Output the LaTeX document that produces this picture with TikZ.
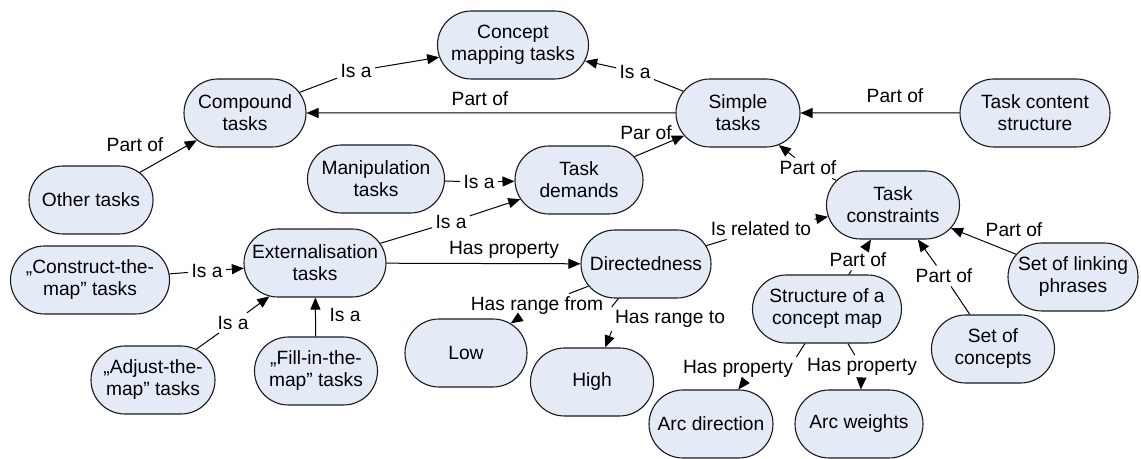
\documentclass[tikz,border=0pt]{standalone}
\usepackage{fontspec}
\setmainfont{Liberation Sans}
\usepackage{xcolor}
\definecolor{Col1}{RGB}{228,235,247}
\definecolor{Col2}{RGB}{25,25,25}
\usepackage{tikz}
\usetikzlibrary{shapes.misc}
\usetikzlibrary{arrows.meta}
\tikzstyle{Node}=[rounded rectangle,draw=Col2,fill=Col1,line width=.55pt,
minimum height=34pt,inner sep=1pt,align=center,font=\fontsize{9.6}{11}\selectfont]
\tikzstyle{Label}=[inner sep=1.5pt,font=\fontsize{9.6}{11}\selectfont]
\tikzstyle{Edge}=[draw=black,line width=.5pt]
\tikzstyle{Arrow}=[Edge,-{Triangle[length=6pt,width=5pt]}]

\begin{document}
\begin{tikzpicture}[x=.5pt,y=-.5pt]
        \useasboundingbox (0,0) rectangle (1141,459);
        % concepts
        \node[Node,minimum width=77.5pt](0)at(513,45){Concept\\mapping tasks};
        \node[Node,minimum width=63pt](1)at(245,113){Compound\\tasks};
        \node[Node,minimum width=64pt](2)at(738,113){Simple\\tasks};
        \node[Node,minimum width=77pt](3)at(1035,113){Task content\\structure};
        \node[Node,minimum width=64pt](4)at(91,200){Other tasks};
        \node[Node,minimum width=70.5pt](5)at(376,179){Manipulation\\tasks};
        \node[Node,minimum width=66pt](6)at(579,180){Task\\demands};
        \node[Node,minimum width=68.5pt](7)at(893,205){Task\\constraints};
        \node[Node,minimum width=73pt](8)at(315,263){Externalisation\\tasks};
        \node[Node,minimum width=81.5pt](9)at(90,280){„Construct-the-\\map” tasks};
        \node[Node,minimum width=67pt](10)at(646,264){Directedness};
        \node[Node,minimum width=67pt](11)at(1073,277){Set of linking\\phrases};
        \node[Node,minimum width=76.5pt](12)at(827,309){Structure of a\\concept map};
        \node[Node,minimum width=63.5pt](13)at(993,349){Set of\\concepts};
        \node[Node,minimum width=63pt](14)at(466,353){Low};
        \node[Node,minimum width=63.5pt](15)at(592,382){High};
        \node[Node,minimum width=64pt](16)at(153,380){„Adjust-the-\\map” tasks};
        \node[Node,minimum width=63.5pt](17)at(316,371){„Fill-in-the-\\map” tasks};
        \node[Node,minimum width=64pt](18)at(711,424){Arc direction};
        \node[Node,minimum width=66pt](19)at(859,424){Arc weights};
        % linking phrases
        \node[Label](l0)at(356,71){Is a};
        \node[Label](l1)at(635,72){Is a};
        \node[Label](l2)at(480,99){Part of};
        \node[Label](l3)at(895,96){Part of};
        \node[Label](l4)at(135,145){Part of};
        \node[Label](l5)at(479,182){Is a};
        \node[Label](l6)at(451,222){Is a};
        \node[Label](l7)at(646,133){Par of};
        \node[Label](l8)at(808,168){Part of};
        \node[Label](l9)at(207,271){Is a};
        \node[Label](l10)at(504,250){Has property};
        \node[Label](l11)at(761,229){Is related to};
        \node[Label](l12)at(1014,230){Part of};
        \node[Label](l13)at(233,323){Is a};
        \node[Label](l14)at(345,315){Is a};
        \node[Label](l15)at(858,260){Part of};
        \node[Label](l16)at(944,276){Part of};
        \node[Label](l17)at(537,306){Has range from};
        \node[Label](l18)at(670,319){Has range to};
        \node[Label](l19)at(738,369){Has property};
        \node[Label](l20)at(862,367){Has property};
        % links
        \draw[Edge](1)--(l0);
        \draw[Arrow](l0)--(0);
        \draw[Edge](2)--(l1);
        \draw[Arrow](l1)--(0);
        \draw[Arrow](2)--(1);
        \draw[Arrow](3)--(2);
        \draw[Arrow](4)--(1);
        \draw[Edge](5)--(l5);
        \draw[Arrow](l5)--(6);
        \draw[Edge](8)--(l6);
        \draw[Arrow](l6)--(6);
        \draw[Arrow](6)--(2);
        \draw[Edge](7)--(l8);
        \draw[Arrow](l8)--(2);
        \draw[Edge](9)--(l9);
        \draw[Arrow](l9)--(8);
        \draw[Arrow](8)--(10);
        \draw[Edge](10)--(l11);
        \draw[Arrow](l11)--(7);
        \draw[Arrow](11)--(7);
        \draw[Edge](16)--(l13);
        \draw[Arrow](l13)--(8);
        \draw[Arrow](17)--(8);
        \draw[Edge](12)--(l15);
        \draw[Arrow](l15)--(7);
        \draw[Edge](13)--(l16);
        \draw[Arrow](l16)--(7);
        \draw[Edge](10)--(l17);
        \draw[Arrow](l17)--(14);
        \draw[Edge](10)--(l18.north west);
        \draw[Arrow](l18.south west)--(15);
        \draw[Edge](12)--(l19.north east);
        \draw[Arrow](l19.-60)--(18);
        \draw[Edge](12)--(l20);
        \draw[Arrow](l20)--(19);
    \end{tikzpicture}
\end{document}
